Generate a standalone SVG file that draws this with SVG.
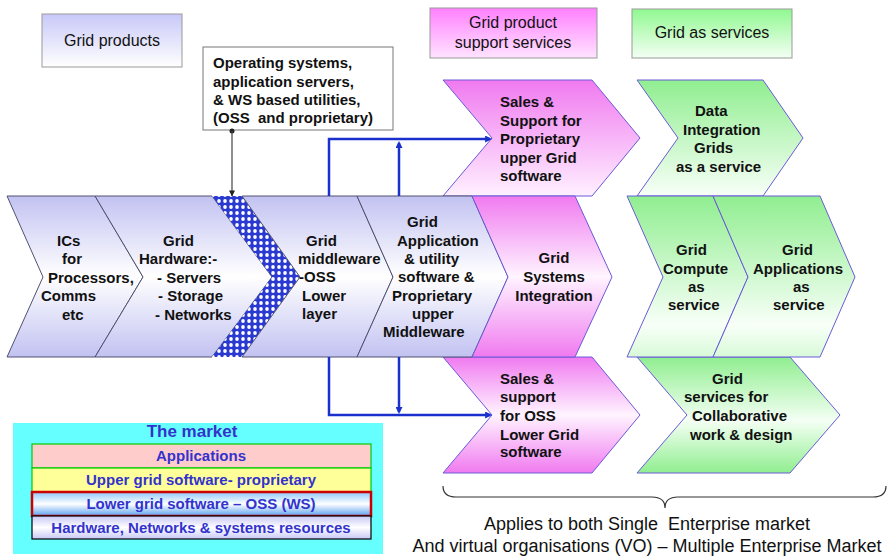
<svg xmlns="http://www.w3.org/2000/svg" width="887" height="558" viewBox="0 0 887 558">
<style>
.t{font-family:"Liberation Sans",Arial,sans-serif;font-size:15px;font-weight:bold;fill:#111;white-space:pre}
.h{font-family:"Liberation Sans",Arial,sans-serif;font-size:16px;fill:#111;text-anchor:middle}
.m{font-family:"Liberation Sans",Arial,sans-serif;font-size:15px;font-weight:bold;fill:#3333cc;text-anchor:middle}
.c{font-family:"Liberation Sans",Arial,sans-serif;font-size:18px;fill:#111;text-anchor:middle;white-space:pre}
.cb{stroke:#505070;stroke-width:1}
.cp{stroke:#6a5ad8;stroke-width:1}
.blue{fill:none;stroke:#1a30cc;stroke-width:2.5}
</style>
<defs>
<linearGradient id="gBlueV" x1="0" y1="0" x2="0" y2="1"><stop offset="0" stop-color="#c2c2f2"/><stop offset="0.5" stop-color="#ffffff"/><stop offset="1" stop-color="#c2c2f2"/></linearGradient>
<linearGradient id="gPinkV" x1="0" y1="0" x2="0" y2="1"><stop offset="0" stop-color="#f07af0"/><stop offset="0.5" stop-color="#fff4ff"/><stop offset="1" stop-color="#f07af0"/></linearGradient>
<linearGradient id="gPinkT" x1="0" y1="0" x2="0" y2="1"><stop offset="0" stop-color="#f07af0"/><stop offset="1" stop-color="#fff0ff"/></linearGradient>
<linearGradient id="gGreenV" x1="0" y1="0" x2="0" y2="1"><stop offset="0" stop-color="#90ee90"/><stop offset="0.55" stop-color="#f4fff4"/><stop offset="1" stop-color="#90ee90"/></linearGradient>
<linearGradient id="gGreenM" x1="0" y1="0" x2="0" y2="1"><stop offset="0" stop-color="#90ee90"/><stop offset="0.8" stop-color="#f8fff8"/><stop offset="1" stop-color="#d8fad8"/></linearGradient>
<linearGradient id="gGreenT" x1="0" y1="0" x2="0" y2="1"><stop offset="0" stop-color="#90ee90"/><stop offset="1" stop-color="#f8fff8"/></linearGradient>
<linearGradient id="hBlue" x1="0" y1="0" x2="0" y2="1"><stop offset="0" stop-color="#c8c8f8"/><stop offset="1" stop-color="#ffffff"/></linearGradient>
<linearGradient id="hPink" x1="0" y1="0" x2="0" y2="1"><stop offset="0" stop-color="#ff80ff"/><stop offset="1" stop-color="#ffe4ff"/></linearGradient>
<linearGradient id="hGreen" x1="0" y1="0" x2="0" y2="1"><stop offset="0" stop-color="#90f890"/><stop offset="1" stop-color="#f4fff4"/></linearGradient>
<linearGradient id="gLower" x1="0" y1="0" x2="0" y2="1"><stop offset="0" stop-color="#8ec8ff"/><stop offset="0.5" stop-color="#ffffff"/><stop offset="1" stop-color="#5aa0f0"/></linearGradient>
<linearGradient id="gHw" x1="0" y1="0" x2="0" y2="1"><stop offset="0" stop-color="#c8c8f8"/><stop offset="0.5" stop-color="#ffffff"/><stop offset="1" stop-color="#c8c8f8"/></linearGradient>
<pattern id="hatch" width="6" height="6" patternUnits="userSpaceOnUse">
<rect width="6" height="6" fill="#2a3ad0"/>
<ellipse cx="3" cy="3" rx="1.8" ry="2.1" fill="#ffffff"/>
</pattern>
<marker id="ab" viewBox="0 0 10 10" refX="7" refY="5" markerWidth="8" markerHeight="7" markerUnits="userSpaceOnUse" orient="auto"><path d="M0,0 L10,5 L0,10 z" fill="#1a30cc"/></marker>
<marker id="ak" viewBox="0 0 10 10" refX="9" refY="5" markerWidth="7" markerHeight="6" markerUnits="userSpaceOnUse" orient="auto"><path d="M0,0 L10,5 L0,10 z" fill="#222"/></marker>
</defs>
<rect width="887" height="558" fill="#ffffff"/>

<g id="hdr-products"><rect x="42" y="14" width="140" height="53" fill="url(#hBlue)" stroke="#999"/><text class="h" x="112" y="46">Grid products</text></g>
<g id="hdr-support"><rect x="430" y="8" width="167" height="50" fill="url(#hPink)" stroke="#999"/><text class="h" x="513" y="28">Grid product</text><text class="h" x="513" y="48">support services</text></g>
<g id="hdr-services"><rect x="632" y="9" width="160" height="49" fill="url(#hGreen)" stroke="#999"/><text class="h" x="712" y="38">Grid as services</text></g>

<g id="os-box"><rect x="203" y="47" width="190" height="83" fill="#ffffff" stroke="#777"/>
<text class="t" x="213" y="68">Operating systems,</text>
<text class="t" x="213" y="87">application servers,</text>
<text class="t" x="213" y="105">&amp; WS based utilities,</text>
<text class="t" x="213" y="123">(OSS  and proprietary)</text></g>

<g id="sales-upper"><polygon class="cp" points="443,80 592,80 640,138 592,196 443,196 492,138" fill="url(#gPinkT)"/>
<text class="t" x="500" y="107">Sales &amp;</text><text class="t" x="500" y="126">Support for</text><text class="t" x="500" y="144">Proprietary</text><text class="t" x="500" y="163">upper Grid</text><text class="t" x="500" y="181">software</text></g>
<g id="data-grids"><polygon class="cp" points="637,80 763,80 803,138 763,196 637,196 678,138" fill="url(#gGreenT)"/>
<text class="t" x="695" y="116">Data</text><text class="t" x="683" y="135">Integration</text><text class="t" x="694" y="153">Grids</text><text class="t" x="676" y="172">as a service</text></g>

<g id="sales-lower"><polygon class="cp" points="443,357 592,357 640,415 592,473 443,473 492,415" fill="url(#gPinkV)"/>
<text class="t" x="500" y="384">Sales &amp;</text><text class="t" x="500" y="402">support</text><text class="t" x="500" y="421">for OSS</text><text class="t" x="500" y="440">Lower Grid</text><text class="t" x="500" y="457">software</text></g>
<g id="collab"><polygon class="cp" points="637,357 790,357 840,415 790,473 637,473 687,415" fill="url(#gGreenV)"/>
<text class="t" x="712" y="384">Grid</text><text class="t" x="684" y="402">services for</text><text class="t" x="692" y="421">Collaborative</text><text class="t" x="690" y="440">work &amp; design</text></g>

<g id="ics"><polygon class="cb" points="7,196 95,196 143,277 95,357 7,357 43,277" fill="url(#gBlueV)"/>
<text class="t" x="57" y="246">ICs</text><text class="t" x="62" y="264">for</text><text class="t" x="48" y="283">Processors,</text><text class="t" x="41" y="301">Comms</text><text class="t" x="62" y="320">etc</text></g>
<g id="hardware"><polygon class="cb" points="95,196 212,196 272,277 212,357 95,357 143,277" fill="url(#gBlueV)"/>
<polygon points="212,196 242,196 300,277 242,357 212,357 272,277" fill="url(#hatch)"/>
<text class="t" x="163" y="246">Grid</text><text class="t" x="139" y="264">Hardware:-</text><text class="t" x="157" y="283">- Servers</text><text class="t" x="158" y="301">- Storage</text><text class="t" x="155" y="320">- Networks</text></g>
<g id="middleware"><polygon class="cb" points="242,196 357,196 393,277 357,357 242,357 300,277" fill="url(#gBlueV)"/>
<text class="t" x="306" y="246">Grid</text><text class="t" x="298" y="264">middleware</text><text class="t" x="299" y="282">-OSS</text><text class="t" x="302" y="301">Lower</text><text class="t" x="302" y="319">layer</text></g>
<g id="application"><polygon class="cb" points="357,196 472,196 508,277 472,357 357,357 393,277" fill="url(#gBlueV)"/>
<text class="t" x="407" y="227">Grid</text><text class="t" x="397" y="246">Application</text><text class="t" x="404" y="264">&amp; utility</text><text class="t" x="398" y="282">software &amp;</text><text class="t" x="392" y="301">Proprietary</text><text class="t" x="412" y="319">upper</text><text class="t" x="383" y="337">Middleware</text></g>
<g id="integration"><polygon class="cp" points="472,196 575,196 612,277 575,357 472,357 508,277" fill="url(#gPinkV)"/>
<text class="t" x="554" y="263" text-anchor="middle">Grid</text><text class="t" x="554" y="282" text-anchor="middle">Systems</text><text class="t" x="554" y="301" text-anchor="middle">Integration</text></g>
<g id="compute"><polygon class="cp" points="627,196 713,196 748,277 713,357 627,357 663,277" fill="url(#gGreenM)"/>
<text class="t" x="676" y="255">Grid</text><text class="t" x="663" y="274">Compute</text><text class="t" x="688" y="292">as</text><text class="t" x="668" y="310">service</text></g>
<g id="apps"><polygon class="cp" points="713,196 820,196 855,277 820,357 713,357 748,277" fill="url(#gGreenM)"/>
<text class="t" x="782" y="255">Grid</text><text class="t" x="753" y="274">Applications</text><text class="t" x="793" y="292">as</text><text class="t" x="773" y="310">service</text></g>

<g id="connectors">
<path class="blue" d="M329,196 V139 H490" marker-end="url(#ab)"/>
<path class="blue" d="M399,196 V143" marker-end="url(#ab)"/>
<path class="blue" d="M329,357 V415 H490" marker-end="url(#ab)"/>
<path class="blue" d="M399,357 V412" marker-end="url(#ab)"/>
<circle cx="232" cy="131" r="2.5" fill="#222"/>
<path d="M232,131 V196" stroke="#444" stroke-width="1.2" fill="none" marker-end="url(#ak)"/>
</g>

<g id="market">
<rect x="13" y="423" width="370" height="131" fill="#66ffff"/>
<text class="m" x="192" y="437" style="font-size:17px">The market</text>
<rect x="32" y="444" width="339" height="24" fill="#ffcccc" stroke="#00cc00" stroke-width="1.2"/>
<text class="m" x="201" y="461">Applications</text>
<rect x="32" y="468" width="339" height="24" fill="#ffff99" stroke="#00cc00" stroke-width="1.2"/>
<text class="m" x="201" y="485">Upper grid software- proprietary</text>
<rect x="32" y="492" width="339" height="24" fill="url(#gLower)" stroke="#cc0000" stroke-width="2.5"/>
<text class="m" x="201" y="509">Lower grid software – OSS (WS)</text>
<rect x="32" y="516" width="339" height="23" fill="url(#gHw)" stroke="#000" stroke-width="1.2"/>
<text class="m" x="201" y="533">Hardware, Networks &amp; systems resources</text>
</g>

<g id="brace">
<path d="M443,486 Q443,497 456,497 L652,497 Q665,497 665,508 Q665,497 678,497 L873,497 Q886,497 886,486" fill="none" stroke="#333" stroke-width="1.2"/>
<text class="c" x="647" y="530">Applies to both Single  Enterprise market</text>
<text class="c" x="647" y="552">And virtual organisations (VO) – Multiple Enterprise Market</text>
</g>
</svg>
